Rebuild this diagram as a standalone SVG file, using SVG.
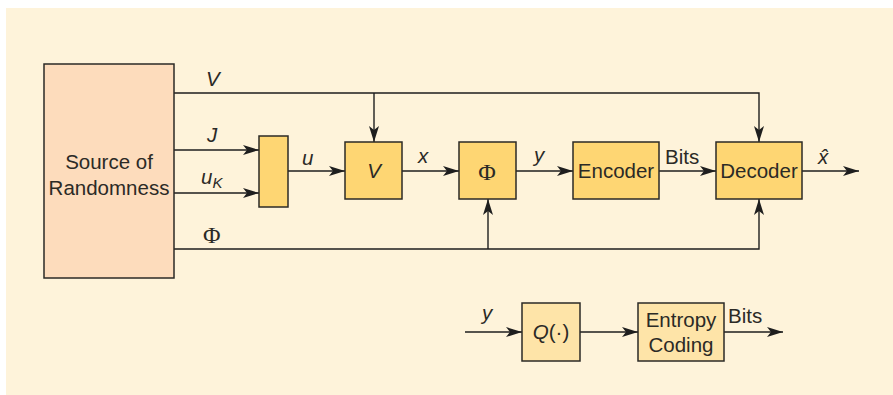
<svg xmlns="http://www.w3.org/2000/svg" width="893" height="395" viewBox="0 0 893 395">
<defs>
<style>
.box{stroke:#2b2a26;stroke-width:1.5}
.src{fill:#fddcbc}
.blk{fill:#fed673}
.lt{fill:#fee4a8}
.ln{fill:none;stroke:#1e1e1e;stroke-width:1.4}
.t{font-family:"Liberation Sans",Arial,sans-serif;font-size:20.5px;fill:#2b2a26}
.f{font-family:"Liberation Serif","Times New Roman",serif;font-size:24px;fill:#2b2a26}
.i{font-style:italic}
.c{text-anchor:middle}
</style>
<marker id="ah" viewBox="0 0 16 10" refX="16" refY="5" markerWidth="16" markerHeight="10" markerUnits="userSpaceOnUse" orient="auto">
<path d="M0,0 L16,5 L0,10 L4,5 Z" fill="#1e1e1e"/>
</marker>
</defs>
<rect x="6" y="8" width="887" height="387" fill="#fef3da"/>
<g id="connectors">
<path class="ln" d="M174,93 H759 V142" marker-end="url(#ah)"/>
<path class="ln" d="M374,93 V142" marker-end="url(#ah)"/>
<path class="ln" d="M174,150 H259" marker-end="url(#ah)"/>
<path class="ln" d="M174,193 H259" marker-end="url(#ah)"/>
<path class="ln" d="M174,249 H759 V199" marker-end="url(#ah)"/>
<path class="ln" d="M488,249 V199" marker-end="url(#ah)"/>
<path class="ln" d="M288,171 H345" marker-end="url(#ah)"/>
<path class="ln" d="M402,171 H459" marker-end="url(#ah)"/>
<path class="ln" d="M516,171 H573" marker-end="url(#ah)"/>
<path class="ln" d="M659,171 H716" marker-end="url(#ah)"/>
<path class="ln" d="M802,171 H859" marker-end="url(#ah)"/>
<path class="ln" d="M465,332 H522" marker-end="url(#ah)"/>
<path class="ln" d="M580,332 H638" marker-end="url(#ah)"/>
<path class="ln" d="M724,332 H783" marker-end="url(#ah)"/>
<text class="t i" x="206" y="86">V</text>
<text class="t i" x="207" y="142">J</text>
<text class="t i" x="201" y="184">u<tspan font-size="15" dy="4">K</tspan></text>
<text class="f" x="203" y="243">Φ</text>
<text class="t i" x="302" y="165">u</text>
<text class="t i" x="418" y="163">x</text>
<text class="t i" x="534" y="162">y</text>
<text class="t" x="665" y="164">Bits</text>
<text class="t i" x="818" y="164">x̂</text>
<text class="t i" x="482" y="320">y</text>
<text class="t" x="728" y="323">Bits</text>
</g>
<g id="source"><rect class="box src" x="44" y="64" width="130" height="214"/>
<text class="t c" x="109" y="169">Source of</text><text class="t c" x="109" y="195">Randomness</text></g>
<g id="mux"><rect class="box blk" x="259" y="136" width="29" height="71"/></g>
<g id="V"><rect class="box blk" x="345" y="142" width="57" height="57"/><text class="t i c" x="374" y="178">V</text></g>
<g id="Phi"><rect class="box blk" x="459" y="142" width="57" height="57"/><text class="f c" x="487" y="180">Φ</text></g>
<g id="encoder"><rect class="box blk" x="573" y="142" width="86" height="57"/><text class="t c" x="616" y="178">Encoder</text></g>
<g id="decoder"><rect class="box blk" x="716" y="142" width="86" height="57"/><text class="t c" x="759" y="178">Decoder</text></g>
<g id="quant"><rect class="box lt" x="522" y="303" width="58" height="58"/><text class="t c" x="551" y="339"><tspan font-style="italic">Q</tspan>(·)</text></g>
<g id="entropy"><rect class="box lt" x="638" y="303" width="86" height="58"/><text class="t c" x="681" y="327">Entropy</text><text class="t c" x="681" y="352">Coding</text></g>
</svg>
